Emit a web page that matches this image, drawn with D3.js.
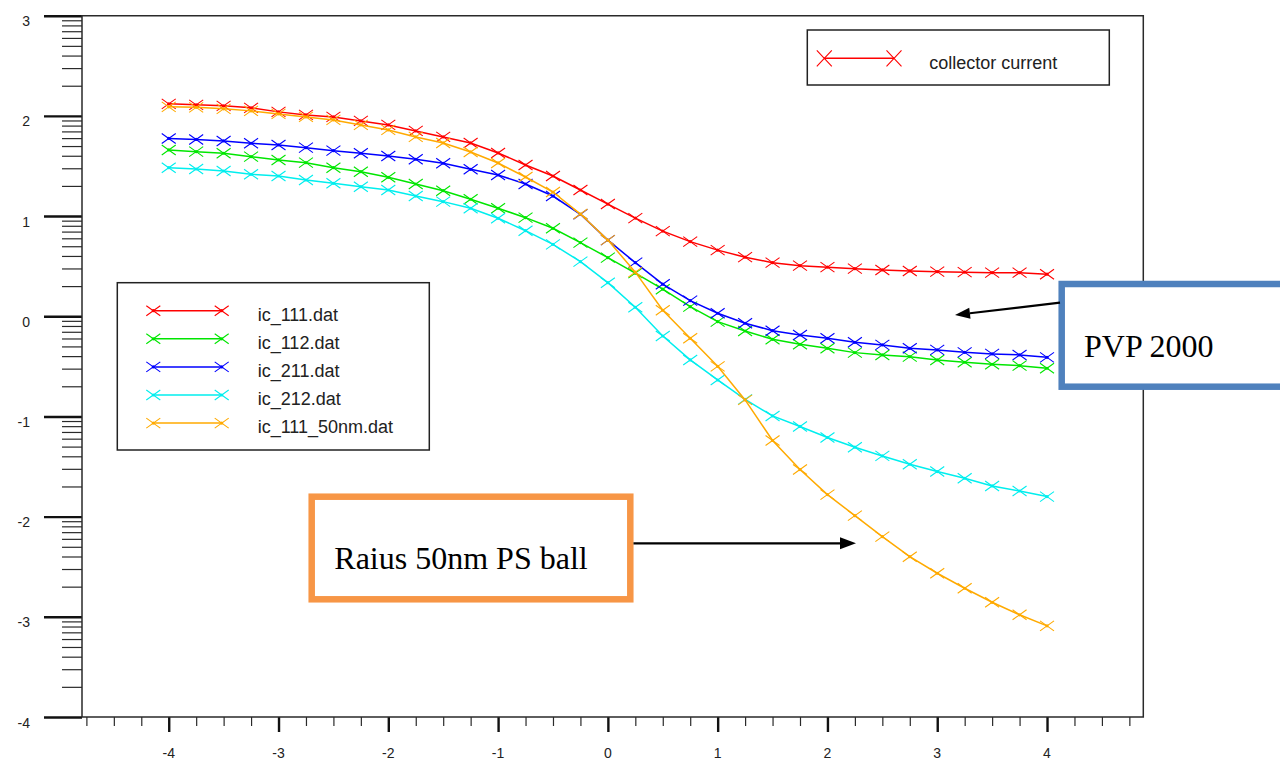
<!DOCTYPE html>
<html>
<head>
<meta charset="utf-8">
<script src="https://cdn.jsdelivr.net/npm/d3@7"></script>
<style>
  body { margin: 0; background: #fff; }
  svg { display: block; }
</style>
</head>
<body>
<svg id="chart" width="1280" height="760"></svg>
<script>
// Bias sweep (x) and log10 collector current for each device file
const xValues = [-4, -3.75, -3.5, -3.25, -3, -2.75, -2.5, -2.25, -2, -1.75, -1.5, -1.25, -1, -0.75, -0.5, -0.25,
                 0, 0.25, 0.5, 0.75, 1, 1.25, 1.5, 1.75, 2, 2.25, 2.5, 2.75, 3, 3.25, 3.5, 3.75, 4];

const ic111 = [2.12, 2.11, 2.10, 2.08, 2.04, 2.01, 1.99, 1.95, 1.91, 1.85, 1.79, 1.73, 1.63, 1.51, 1.40, 1.26,
               1.12, 0.98, 0.85, 0.745, 0.66, 0.59, 0.535, 0.505, 0.49, 0.475, 0.462, 0.452, 0.445, 0.44, 0.435, 0.435, 0.42];

const ic112 = [1.66, 1.643, 1.627, 1.593, 1.56, 1.533, 1.483, 1.443, 1.387, 1.32, 1.253, 1.168, 1.078, 0.984, 0.878, 0.735,
               0.585, 0.43, 0.27, 0.096, -0.054, -0.147, -0.23, -0.28, -0.32, -0.363, -0.386, -0.403, -0.436, -0.459, -0.479, -0.493, -0.519];

const ic211 = [1.775, 1.765, 1.75, 1.727, 1.71, 1.683, 1.653, 1.627, 1.60, 1.567, 1.527, 1.467, 1.41, 1.32, 1.20, 1.018,
               0.76, 0.535, 0.32, 0.156, 0.03, -0.07, -0.144, -0.187, -0.22, -0.26, -0.286, -0.32, -0.336, -0.36, -0.376, -0.386, -0.41];

const ic212 = [1.483, 1.47, 1.45, 1.417, 1.40, 1.36, 1.327, 1.293, 1.26, 1.20, 1.144, 1.078, 0.978, 0.854, 0.718, 0.545,
               0.335, 0.09, -0.197, -0.436, -0.636, -0.83, -0.995, -1.10, -1.21, -1.307, -1.394, -1.477, -1.55, -1.617, -1.694, -1.744, -1.80];

const ic111_50nm = [2.09, 2.085, 2.07, 2.05, 2.02, 1.99, 1.96, 1.91, 1.86, 1.79, 1.73, 1.64, 1.53, 1.39, 1.24, 1.02,
                    0.76, 0.44, 0.06, -0.22, -0.50, -0.835, -1.24, -1.53, -1.78, -1.99, -2.20, -2.40, -2.565, -2.715, -2.855, -2.98, -3.09];

const seriesNames = ["ic_111.dat", "ic_112.dat", "ic_211.dat", "ic_212.dat", "ic_111_50nm.dat"];
const seriesValues = [ic111, ic112, ic211, ic212, ic111_50nm];
const seriesColors = ["#ff0000", "#00e600", "#0000ff", "#00eeee", "#ffaa00"];

const xTickLabels = [-4, -3, -2, -1, 0, 1, 2, 3, 4];
const xMinorTicks = [-4.75, -4.5, -4.25, -3.75, -3.5, -3.25, -2.75, -2.5, -2.25, -1.75, -1.5, -1.25, -0.75, -0.5, -0.25,
                     0.25, 0.5, 0.75, 1.25, 1.5, 1.75, 2.25, 2.5, 2.75, 3.25, 3.5, 3.75, 4.25, 4.5, 4.75];
const yTickLabels = [-4, -3, -2, -1, 0, 1, 2, 3];
const yMinorMantissas = [2, 3, 4, 5, 6, 7, 8, 9];

const titleLegend = "collector current";
const noteBlue = "PVP 2000";
const noteOrange = "Raius 50nm PS ball";

const svg = d3.select("#chart");

const plotLeft = 82, plotRight = 1143.3, plotTop = 15.7, plotBottom = 717;
const x = d3.scaleLinear().domain([-4.79, 4.877]).range([plotLeft, plotRight]);
const y = d3.scaleLinear().domain([-4, 3]).range([plotBottom, plotTop]);

const axisColor = "#2a2a2a";
const sans = "'Liberation Sans', Arial, sans-serif";
const serif = "'Liberation Serif', 'Times New Roman', serif";

// ---- x axis (ticks point down) ----
const xMinorAxis = d3.axisBottom(x).tickValues(xMinorTicks).tickSize(9).tickFormat("");
const xMajorAxis = d3.axisBottom(x).tickValues(xTickLabels).tickSize(15).tickFormat("");
const gxMinor = svg.append("g").attr("transform", `translate(0,${plotBottom})`).call(xMinorAxis);
const gxMajor = svg.append("g").attr("transform", `translate(0,${plotBottom})`).call(xMajorAxis);
[gxMinor, gxMajor].forEach(g => g.select(".domain").remove());
gxMinor.selectAll("line").attr("stroke", axisColor).attr("stroke-width", 1.2);
gxMajor.selectAll("line").attr("stroke", "#111").attr("stroke-width", 2.4);

svg.append("g").selectAll("text").data(xTickLabels).join("text")
  .attr("x", d => x(d)).attr("y", 758)
  .attr("text-anchor", "middle")
  .attr("font-family", sans).attr("font-size", 14).attr("fill", "#222")
  .text(d => d);

// ---- y axis (log-decade minor ticks) ----
const yMinorValues = [];
yTickLabels.slice(0, -1).forEach(n => yMinorMantissas.forEach(k => yMinorValues.push(n + Math.log10(k))));
const yMinorAxis = d3.axisLeft(y).tickValues(yMinorValues).tickSize(20).tickFormat("");
const yMajorAxis = d3.axisLeft(y).tickValues(yTickLabels).tickSize(38).tickFormat("");
const gyMinor = svg.append("g").attr("transform", `translate(${plotLeft},0)`).call(yMinorAxis);
const gyMajor = svg.append("g").attr("transform", `translate(${plotLeft},0)`).call(yMajorAxis);
[gyMinor, gyMajor].forEach(g => g.select(".domain").remove());
gyMinor.selectAll("line").attr("stroke", axisColor).attr("stroke-width", 1.2);
gyMajor.selectAll("line").attr("stroke", "#111").attr("stroke-width", 2.4);

svg.append("g").selectAll("text").data(yTickLabels).join("text")
  .attr("x", 30).attr("y", d => y(d) + 10.5)
  .attr("text-anchor", "end")
  .attr("font-family", sans).attr("font-size", 14).attr("fill", "#222")
  .text(d => d);

// ---- plot frame ----
svg.append("path")
  .attr("d", `M${plotLeft},${plotBottom}L${plotLeft},${plotTop}L${plotRight},${plotTop}L${plotRight},${plotBottom}Z`)
  .attr("fill", "none").attr("stroke", axisColor).attr("stroke-width", 1.5);

// ---- series ----
const line = d3.line().x((d, i) => x(xValues[i])).y(d => y(d));
const crossPath = (w, h) => `M${-w},${-h}L${w},${h}M${-w},${h}L${w},${-h}`;

seriesValues.forEach((vals, si) => {
  const g = svg.append("g");
  g.append("path").attr("d", line(vals))
    .attr("fill", "none").attr("stroke", seriesColors[si]).attr("stroke-width", 1.5);
  const m = g.selectAll("g.mk").data(vals).join("g").attr("class", "mk")
    .attr("transform", (d, i) => `translate(${x(xValues[i])},${y(d)})`);
  m.append("path").attr("d", crossPath(7, 5))
    .attr("fill", "none").attr("stroke", seriesColors[si]).attr("stroke-width", 1.1);
  m.append("circle").attr("r", 1.6).attr("fill", seriesColors[si]);
});

// ---- legend: collector current ----
const lg1 = svg.append("g");
lg1.append("rect").attr("x", 807.3).attr("y", 30).attr("width", 302).attr("height", 55)
  .attr("fill", "#fff").attr("stroke", "#222").attr("stroke-width", 1.5);
lg1.append("line").attr("x1", 824.3).attr("x2", 894).attr("y1", 58.3).attr("y2", 58.3)
  .attr("stroke", seriesColors[0]).attr("stroke-width", 1.5);
[824.3, 894].forEach(cx => {
  lg1.append("path").attr("transform", `translate(${cx},58.3)`).attr("d", crossPath(7.5, 8))
    .attr("fill", "none").attr("stroke", seriesColors[0]).attr("stroke-width", 1.1);
});
lg1.append("text").attr("x", 929.3).attr("y", 69.3)
  .attr("font-family", sans).attr("font-size", 18).attr("fill", "#222").text(titleLegend);

// ---- legend: device files ----
const lg2 = svg.append("g");
lg2.append("rect").attr("x", 117.3).attr("y", 282.7).attr("width", 312).attr("height", 167.3)
  .attr("fill", "#fff").attr("stroke", "#222").attr("stroke-width", 1.5);
seriesNames.forEach((name, i) => {
  const ly = 310.7 + i * 28.1;
  const c = seriesColors[i];
  lg2.append("line").attr("x1", 153.3).attr("x2", 221.7).attr("y1", ly).attr("y2", ly)
    .attr("stroke", c).attr("stroke-width", 1.5);
  [153.3, 221.7].forEach(cx => {
    const mk = lg2.append("g").attr("transform", `translate(${cx},${ly})`);
    mk.append("path").attr("d", crossPath(7, 5)).attr("fill", "none").attr("stroke", c).attr("stroke-width", 1.1);
    mk.append("circle").attr("r", 1.6).attr("fill", c);
  });
  lg2.append("text").attr("x", 257.7).attr("y", ly + 10)
    .attr("font-family", sans).attr("font-size", 18).attr("fill", "#222").text(name);
});

// ---- callouts ----
function arrow(x1, y1, x2, y2, len, half) {
  const a = Math.atan2(y2 - y1, x2 - x1);
  const bx = x2 - len * Math.cos(a), by = y2 - len * Math.sin(a);
  svg.append("line").attr("x1", x1).attr("y1", y1).attr("x2", bx).attr("y2", by)
    .attr("stroke", "#000").attr("stroke-width", 2.2);
  const px = -Math.sin(a) * half, py = Math.cos(a) * half;
  svg.append("path")
    .attr("d", `M${x2},${y2}L${bx + px},${by + py}L${bx - px},${by - py}Z`)
    .attr("fill", "#000");
}

svg.append("rect").attr("x", 1061.7).attr("y", 284).attr("width", 260).attr("height", 102.7)
  .attr("fill", "#fff").attr("stroke", "#4f81bd").attr("stroke-width", 6.5);
svg.append("text").attr("x", 1084).attr("y", 357.3)
  .attr("font-family", serif).attr("font-size", 32).attr("fill", "#000").text(noteBlue);
arrow(1060, 302.6, 955, 315, 15, 5.5);

svg.append("rect").attr("x", 311.7).attr("y", 496.7).attr("width", 318.6).attr("height", 102.6)
  .attr("fill", "#fff").attr("stroke", "#f79646").attr("stroke-width", 6.5);
svg.append("text").attr("x", 334.3).attr("y", 569.3)
  .attr("font-family", serif).attr("font-size", 32).attr("fill", "#000").text(noteOrange);
arrow(633.5, 543.3, 856, 543.3, 16, 6);
</script>
</body>
</html>
